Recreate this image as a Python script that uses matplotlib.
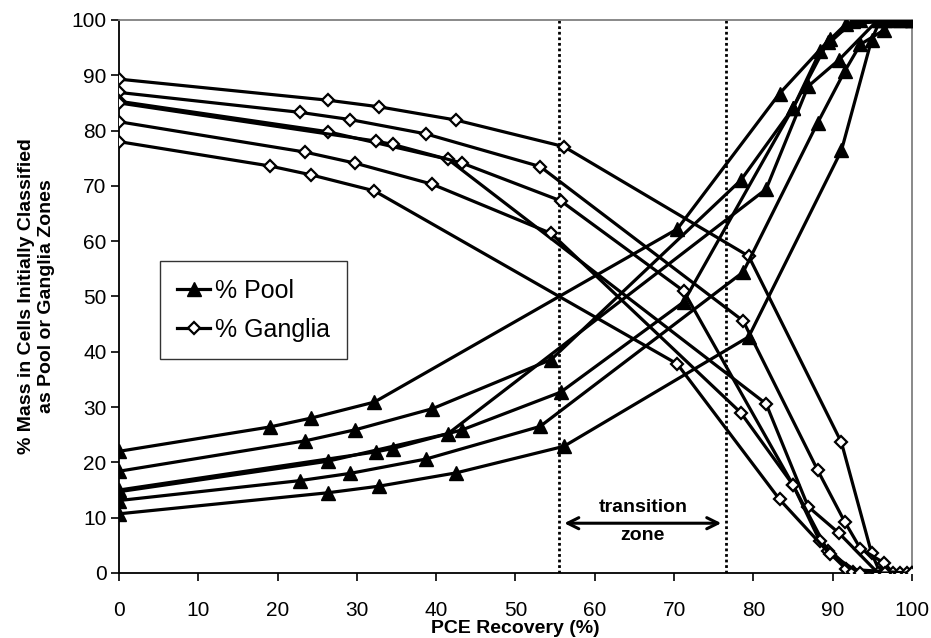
import matplotlib
matplotlib.use("Agg")
import matplotlib.pyplot as plt

plt.rcParams['font.family'] = ['Liberation Sans', 'DejaVu Sans']

# six runs: PCE recovery (%) and % mass in ganglia / pool cells
x_a = [0, 26.3, 32.8, 42.5, 56.1, 79.4, 91.1, 94.9, 96.0, 100]
ganglia_a = [89.3, 85.5, 84.3, 81.9, 77.1, 57.3, 23.6, 3.6, 0, 0]
pool_a = [10.7, 14.5, 15.7, 18.1, 22.9, 42.7, 76.4, 96.4, 100, 100]

x_b = [0, 22.8, 29.1, 38.7, 53.1, 78.7, 88.1, 91.5, 93.5, 96.5, 97.6]
ganglia_b = [86.9, 83.3, 82.0, 79.4, 73.5, 45.6, 18.6, 9.3, 4.4, 1.8, 0]
pool_b = [13.1, 16.7, 18.0, 20.6, 26.5, 54.4, 81.4, 90.7, 95.6, 98.2, 100]

x_c = [0, 26.3, 41.5, 81.6, 86.9, 90.8, 95.7, 98.5]
ganglia_c = [85.3, 79.8, 74.8, 30.6, 12.0, 7.2, 0, 0]
pool_c = [14.7, 20.2, 25.2, 69.4, 88.0, 92.8, 100, 100]

x_d = [0, 32.4, 34.5, 43.3, 55.7, 71.2, 85.0, 89.4, 91.7, 99.4]
ganglia_d = [85.0, 78.1, 77.5, 74.1, 67.3, 51.0, 15.9, 3.9, 0.7, 0]
pool_d = [15.0, 21.9, 22.5, 25.9, 32.7, 49.0, 84.1, 96.1, 99.3, 100]

x_e = [0, 23.5, 29.8, 39.5, 54.5, 78.4, 85.0, 88.4, 92.6, 96.6]
ganglia_e = [81.6, 76.1, 74.1, 70.3, 61.4, 29.0, 15.9, 5.7, 0.2, 0]
pool_e = [18.4, 23.9, 25.9, 29.7, 38.6, 71.0, 84.1, 94.3, 99.8, 100]

x_f = [0, 19.0, 24.2, 32.2, 70.4, 83.3, 89.6, 93.4, 100]
ganglia_f = [78.0, 73.6, 72.0, 69.1, 37.8, 13.3, 3.5, 0, 0]
pool_f = [22.0, 26.4, 28.0, 30.9, 62.2, 86.7, 96.5, 100, 100]

runs = [
    (x_a, pool_a, ganglia_a),
    (x_b, pool_b, ganglia_b),
    (x_c, pool_c, ganglia_c),
    (x_d, pool_d, ganglia_d),
    (x_e, pool_e, ganglia_e),
    (x_f, pool_f, ganglia_f),
]

zone_start = 55.5
zone_end = 76.6

fig = plt.figure(figsize=(9.31, 6.38), dpi=100)
ax = fig.add_axes([0.1278, 0.1019, 0.8518, 0.8668])

for i, (xs, pool, gang) in enumerate(runs):
    ax.plot(xs, gang, color='black', lw=2.3, marker='D', ms=6.5,
            mfc='white', mec='black', mew=1.6,
            label='% Ganglia' if i == 0 else None, zorder=3)
    ax.plot(xs, pool, color='black', lw=2.3, marker='^', ms=9.5,
            mfc='black', mec='black',
            label='% Pool' if i == 0 else None, zorder=3)

for xv in (zone_start, zone_end):
    ax.axvline(xv, color='black', lw=2, ls=(0, (1, 1)), zorder=2)

ax.annotate('', xy=(zone_start + 0.3, 9.0), xytext=(zone_end - 0.3, 9.0),
            arrowprops=dict(arrowstyle='<->', color='black', lw=2.2,
                            mutation_scale=20))
mid = (zone_start + zone_end) / 2
ax.text(mid, 11.8, 'transition', ha='center', va='center',
        fontsize=14, fontweight='bold')
ax.text(mid, 6.8, 'zone', ha='center', va='center',
        fontsize=14, fontweight='bold')

ax.set_xlim(0, 100)
ax.set_ylim(0, 100)
ax.set_xticks(range(0, 101, 10))
ax.set_yticks(range(0, 101, 10))
ax.tick_params(axis='both', labelsize=15, direction='out', length=6,
               width=1.2, color='black')
ax.tick_params(axis='x', pad=14)
ax.tick_params(axis='y', pad=3)
for side in ('left', 'bottom'):
    ax.spines[side].set_color('black')
    ax.spines[side].set_linewidth(1.3)
for side in ('top', 'right'):
    ax.spines[side].set_color('#808080')
    ax.spines[side].set_linewidth(1.3)

ax.set_xlabel('PCE Recovery (%)', fontsize=14, fontweight='bold', labelpad=0)
ax.set_ylabel('% Mass in Cells Initially Classified\nas Pool or Ganglia Zones',
              fontsize=14, fontweight='bold', labelpad=12)

handles, labels = ax.get_legend_handles_labels()
order = [labels.index('% Pool'), labels.index('% Ganglia')]
leg = ax.legend([handles[k] for k in order], [labels[k] for k in order],
                loc='upper left', bbox_to_anchor=(0.0517, 0.564),
                borderaxespad=0, fontsize=18, frameon=True, fancybox=False,
                edgecolor='black', handlelength=1.3, borderpad=0.7,
                labelspacing=0.6, handletextpad=0.2)
leg.get_frame().set_linewidth(1.0)

fig.savefig('out.png', dpi=100)
